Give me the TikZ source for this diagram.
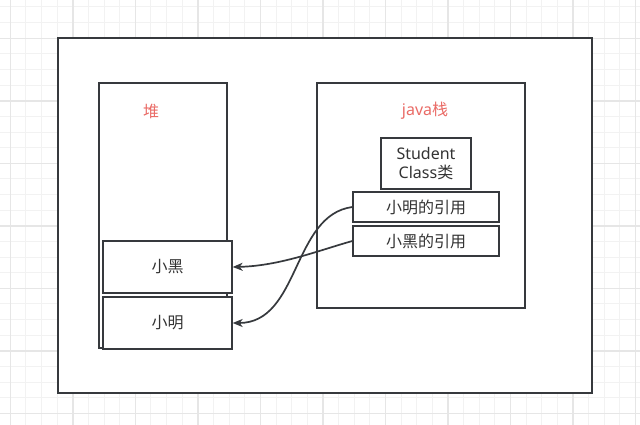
\documentclass[tikz,border=0pt]{standalone}
\usepackage{fontspec}
\setmainfont{Noto Sans}
\newfontfamily\cjk{Noto Sans CJK SC}
\usetikzlibrary{arrows.meta}
\definecolor{linec}{HTML}{36393D}
\definecolor{textc}{HTML}{333333}
\definecolor{labelred}{HTML}{EA6B66}
\definecolor{gridfinec}{HTML}{F2F2F2}
\definecolor{gridboldc}{HTML}{E6E6E6}
\begin{document}
\begin{tikzpicture}[x=1pt, y=-1pt,
        gridfine/.style={gridfinec, line width=1pt},
        gridbold/.style={gridboldc, line width=1.5pt},
        box/.style={draw=linec, fill=white, line width=1.3pt, inner sep=0pt, text=textc,
            font=\fontsize{16}{20}\selectfont},
        tag/.style={text=labelred, inner sep=0pt, font=\fontsize{16}{20}\selectfont},
        ref/.style={draw=linec, line width=1.7pt, -{Stealth[length=10pt, width=8pt, inset=3pt]}}]
        \useasboundingbox (0,0) rectangle (640,425);
        \fill[white] (0,0) rectangle (640,425);

        % background grid
        \foreach \k in {0,...,40}
            \draw[gridfine] ({10.3+15.63*\k},0) -- ++(0,425);
        \foreach \k in {0,...,27}
            \draw[gridfine] (0,{7+15.63*\k}) -- ++(640,0);
        \foreach \k in {0,4,...,40}
            \draw[gridbold] ({10.3+15.63*\k},0) -- ++(0,425);
        \foreach \k in {2,6,...,26}
            \draw[gridbold] (0,{7+15.63*\k}) -- ++(640,0);

        \node[box, minimum width=534, minimum height=355] (frame) at (325,215.5) {};

        % heap
        \node[box, minimum width=128, minimum height=265] (heap) at (163,215.5) {};
        \node[tag] (heaplabel) at (151,111) {\cjk 堆};

        % java stack
        \node[box, minimum width=208, minimum height=225] (stack) at (421,195.5) {};
        \node[tag] (stacklabel) at (425,111) {java{\cjk 栈}};

        \node[box, minimum width=90, minimum height=51, align=center] (student) at (426,163.5)
            {Student\\[-1pt]Class{\cjk 类}};
        \node[box, minimum width=146, minimum height=30] (mingref) at (426,207) {\cjk 小明的引用};
        \node[box, minimum width=146, minimum height=30] (heiref) at (426,241) {\cjk 小黑的引用};

        \node[box, minimum width=129, minimum height=52] (hei) at (167.5,267) {\cjk 小黑};
        \node[box, minimum width=129, minimum height=52] (ming) at (167.5,323) {\cjk 小明};

        \draw[ref] (mingref.west) .. controls (292,215) and (300,323) .. (ming.east);
        \draw[ref] (heiref.west) .. controls (320,250) and (280,266) .. (hei.east);
    \end{tikzpicture}
\end{document}
